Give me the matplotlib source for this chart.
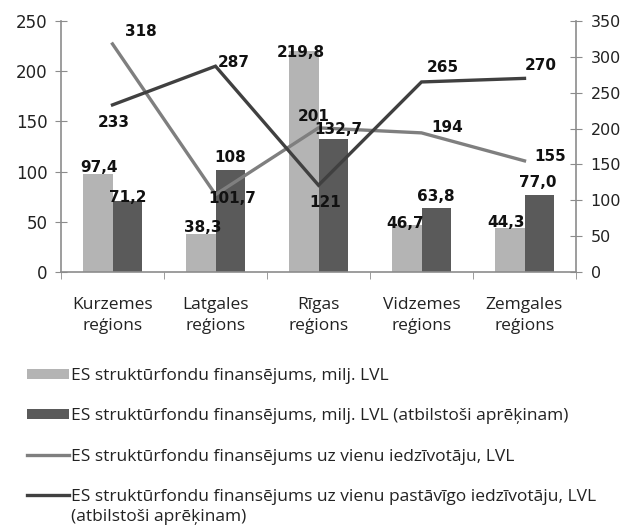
import matplotlib
matplotlib.use('Agg')
import matplotlib.pyplot as plt
import numpy as np
from matplotlib.patches import Patch
from matplotlib.lines import Line2D

# ============================================================
# 数据
# ============================================================
regions = ['Kurzemes\nreģions', 'Latgales\nreģions', 'Rīgas\nreģions',
           'Vidzemes\nreģions', 'Zemgales\nreģions']
fund_total = [97.4, 38.3, 219.8, 46.7, 44.3]
fund_calc = [71.2, 101.7, 132.7, 63.8, 77.0]
per_resident = [318, 108, 201, 194, 155]
per_permanent = [233, 287, 121, 265, 270]

# data labels as printed in the chart (two are swapped in the original)
lbl_total = ['97,4', '38,3', '219,8', '46,7', '44,3']
lbl_calc = ['71,2', '108', '132,7', '63,8', '77,0']
lbl_resident = ['318', '101,7', '201', '194', '155']
lbl_permanent = ['233', '287', '121', '265', '270']

legend_labels = [
    'ES struktūrfondu finansējums, milj. LVL',
    'ES struktūrfondu finansējums, milj. LVL (atbilstoši aprēķinam)',
    'ES struktūrfondu finansējums uz vienu iedzīvotāju, LVL',
    'ES struktūrfondu finansējums uz vienu pastāvīgo iedzīvotāju, LVL',
]
legend_extra = '(atbilstoši aprēķinam)'

# colours
C_BAR_LIGHT = '#b4b4b4'
C_BAR_DARK = '#5a5a5a'
C_LINE_LIGHT = '#7f7f7f'
C_LINE_DARK = '#404040'
C_AXIS = '#8c8c8c'
C_TEXT = '#222222'

TXT_FONT = ['Open Sans', 'DejaVu Sans']
NUM_FONT = ['DejaVu Sans']

# label offsets (pixels)
off_total = [(1, 7), (2, 6), (-3, -1), (-1, 2), (-4, 5)]
off_calc = [(0, 3), (0, 12), (5, 9), (-1, 11), (-2, 12)]
off_resident = [(28, 12), (17, -4), (-5, 11), (26, 5), (26, 4)]
off_permanent = [(1, -18), (18, 4), (7, -17), (21, 14), (16, 13)]

# ============================================================
# 绘图
# ============================================================
fig = plt.figure(figsize=(6.28, 5.29), dpi=100)
ax = fig.add_axes([61 / 628, 257 / 529, 515 / 628, 251 / 529])
ax2 = ax.twinx()

x = np.arange(len(regions))
w = 0.29
ax.bar(x - w / 2, fund_total, width=w, color=C_BAR_LIGHT, zorder=2)
ax.bar(x + w / 2, fund_calc, width=w, color=C_BAR_DARK, zorder=2)

ax2.plot(x, per_resident, color=C_LINE_LIGHT, linewidth=2.4, solid_joinstyle='miter')
ax2.plot(x, per_permanent, color=C_LINE_DARK, linewidth=2.4, solid_joinstyle='miter')

ax.set_xlim(-0.5, len(regions) - 0.5)
ax.set_ylim(0, 250)
ax2.set_ylim(0, 350)
ax.set_yticks(np.arange(0, 251, 50))
ax2.set_yticks(np.arange(0, 351, 50))

ax.set_xticks(x)
ax.set_xticklabels(regions, fontsize=12.5, family=TXT_FONT, color=C_TEXT, linespacing=1.45)
ax.set_xticks(np.arange(-0.5, len(regions)), minor=True)
ax.tick_params(axis='x', which='major', length=0, pad=18)
ax.tick_params(axis='x', which='minor', length=5, color=C_AXIS, direction='out')

for a in (ax, ax2):
    a.spines['top'].set_visible(False)
    for s in ('left', 'right', 'bottom'):
        a.spines[s].set_color(C_AXIS)
        a.spines[s].set_linewidth(1.2)
ax.spines['right'].set_visible(False)
ax2.spines['left'].set_visible(False)
ax2.spines['bottom'].set_visible(False)

ax.tick_params(axis='y', direction='inout', length=9, color=C_AXIS, labelsize=12,
               labelcolor=C_TEXT, pad=5)
ax2.tick_params(axis='y', direction='inout', length=9, color=C_AXIS, labelsize=11.5,
                labelcolor=C_TEXT, pad=6)
for lab in ax.get_yticklabels() + ax2.get_yticklabels():
    lab.set_family(NUM_FONT)

# data labels
lab_kw = dict(textcoords='offset pixels', ha='center', va='center', fontsize=11,
              fontweight='bold', family=NUM_FONT, color='#111111', zorder=5)
for i in range(len(regions)):
    ax2.annotate(lbl_total[i], xy=(x[i] - w / 2, fund_total[i]), xycoords=ax.transData,
                 xytext=off_total[i], **lab_kw)
    ax2.annotate(lbl_calc[i], xy=(x[i] + w / 2, fund_calc[i]), xycoords=ax.transData,
                 xytext=off_calc[i], **lab_kw)
    ax2.annotate(lbl_resident[i], xy=(x[i], per_resident[i]), xytext=off_resident[i], **lab_kw)
    ax2.annotate(lbl_permanent[i], xy=(x[i], per_permanent[i]), xytext=off_permanent[i], **lab_kw)

# legend
handles = [
    Patch(facecolor=C_BAR_LIGHT, edgecolor='none'),
    Patch(facecolor=C_BAR_DARK, edgecolor='none'),
    Line2D([0], [0], color=C_LINE_LIGHT, linewidth=2.4),
    Line2D([0], [0], color=C_LINE_DARK, linewidth=2.4),
]
leg = fig.legend(handles, legend_labels, loc='upper left', bbox_to_anchor=(27 / 628, 1 - 368 / 529),
                 frameon=False, borderpad=0, borderaxespad=0, handlelength=2.4,
                 handleheight=0.5, handletextpad=0.12, labelspacing=1.4,
                 prop={'family': TXT_FONT, 'size': 12.5})
for t in leg.get_texts():
    t.set_color(C_TEXT)

fig.canvas.draw()
bb = leg.get_texts()[3].get_window_extent()
fig.text(bb.x0 / fig.bbox.width, (bb.y0 - 20) / fig.bbox.height, legend_extra,
         ha='left', va='bottom', family=TXT_FONT, fontsize=12.5, color=C_TEXT)

fig.savefig('out.png', dpi=100)
